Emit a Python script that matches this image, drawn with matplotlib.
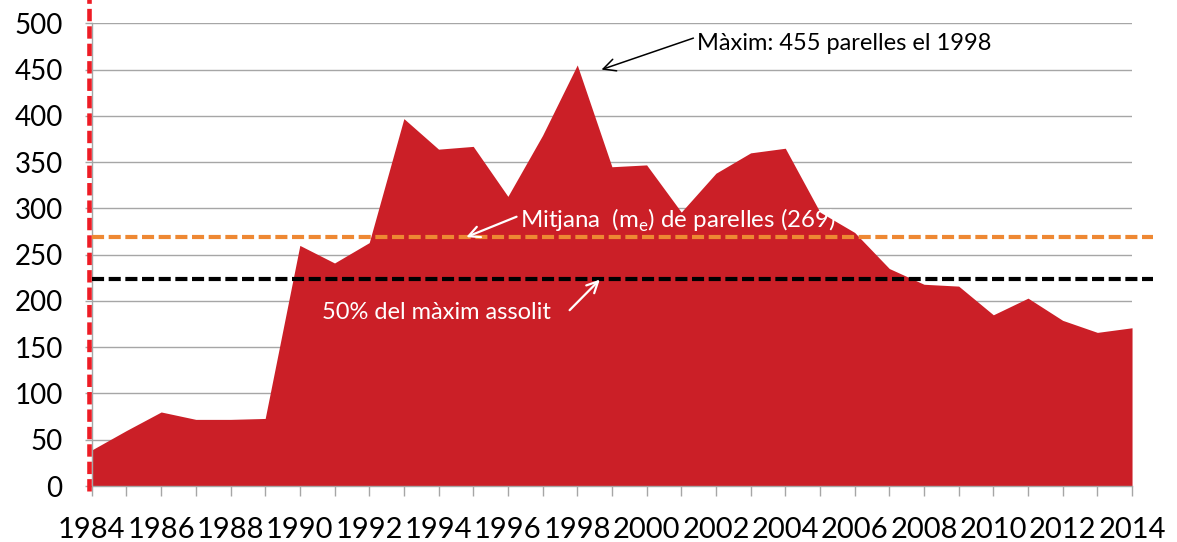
import matplotlib
matplotlib.use('Agg')
import matplotlib.pyplot as plt
import matplotlib.transforms as mtransforms

# ---- data ----
years = list(range(1984, 2015))
pairs = [39, 60, 80, 72, 72, 73, 260, 241, 263, 397, 364, 367, 313, 379, 455,
         345, 347, 296, 338, 360, 365, 296, 274, 235, 218, 216, 185, 203, 179,
         166, 171]
mean_pairs = 269
half_max_line = 224   # level at which the "50% del màxim" line is drawn
y_ticks = [0, 50, 100, 150, 200, 250, 300, 350, 400, 450, 500]
x_labels = [str(y) if (y - years[0]) % 2 == 0 else '' for y in years]

max_idx = pairs.index(max(pairs))
max_year = years[max_idx]
max_val = pairs[max_idx]

label_max = 'Màxim: %d parelles el %d' % (max_val, max_year)
label_mean = 'Mitjana  (m$_\\mathregular{e}$) de parelles (%d)' % mean_pairs
label_half = '50% del màxim assolit'

# ---- style ----
plt.rcParams['font.family'] = ['Lato', 'DejaVu Sans']
plt.rcParams['mathtext.fontset'] = 'custom'
plt.rcParams['mathtext.rm'] = 'Lato'

RED_FILL = '#CB1F27'
RED_LINE = '#EE1C25'
ORANGE = '#EE8833'
GRID = '#A6A6A6'

fig = plt.figure(figsize=(11.77, 5.42), dpi=100)
ax = fig.add_axes([0.0780, 0.1033, 0.8838, 0.8537])

ax.set_xlim(years[0], years[-1])
ax.set_ylim(y_ticks[0], y_ticks[-1])

ax.yaxis.grid(True, color=GRID, lw=1.0, zorder=0)
ax.set_axisbelow(True)

ax.fill_between(years, pairs, 0, color=RED_FILL, lw=0, zorder=2)

# reference lines
ax.hlines(mean_pairs, years[0], years[-1] + 0.6, colors=ORANGE, lw=3,
          linestyles=(0, (2.9, 1.1)), clip_on=False, zorder=3)
ax.hlines(half_max_line, years[0], years[-1] + 0.6, colors='black', lw=3,
          linestyles=(0, (2.9, 1.1)), clip_on=False, zorder=3)

vtrans = mtransforms.offset_copy(ax.get_xaxis_transform(), fig=fig, x=-3, y=0, units='dots')
ax.plot([years[0], years[0]], [-0.01, 1.06], transform=vtrans, color=RED_LINE,
        lw=3.3, ls=(0, (2.7, 1.1)), clip_on=False, zorder=4)

# spines / ticks
for s in ['top', 'right']:
    ax.spines[s].set_visible(False)
for s in ['left', 'bottom']:
    ax.spines[s].set_color(GRID)
    ax.spines[s].set_linewidth(1.0)

ax.set_yticks(y_ticks)
ax.set_yticklabels([str(v) for v in y_ticks])
ax.set_xticks(years)
ax.set_xticklabels(x_labels)
ax.tick_params(axis='y', length=5, width=1, color=GRID, pad=16, labelsize=20)
ax.tick_params(axis='x', length=7, width=1, color=GRID, pad=15, labelsize=21)

# annotations
ax.text(max_year + 3.45, 478, label_max, ha='left', va='center', fontsize=17,
        color='black', zorder=6)
ax.annotate('', xy=(max_year + 0.7, max_val - 5), xytext=(max_year + 3.35, 484),
            arrowprops=dict(arrowstyle='->', color='black', lw=1.1,
                            mutation_scale=22, shrinkA=0, shrinkB=0), zorder=6)

ax.text(1996.35, 287, label_mean, ha='left', va='center', fontsize=17.3,
        color='white', zorder=6)
ax.annotate('', xy=(1994.8, mean_pairs), xytext=(1996.25, 291),
            arrowprops=dict(arrowstyle='->', color='white', lw=1.6,
                            mutation_scale=20, shrinkA=0, shrinkB=0), zorder=6)

ax.text(1990.65, 187, label_half, ha='left', va='center', fontsize=17,
        color='white', zorder=6)
ax.annotate('', xy=(1998.65, half_max_line - 1), xytext=(1997.78, 190),
            arrowprops=dict(arrowstyle='->', color='white', lw=1.6,
                            mutation_scale=20, shrinkA=0, shrinkB=0), zorder=6)

fig.savefig('out.png', dpi=100)
